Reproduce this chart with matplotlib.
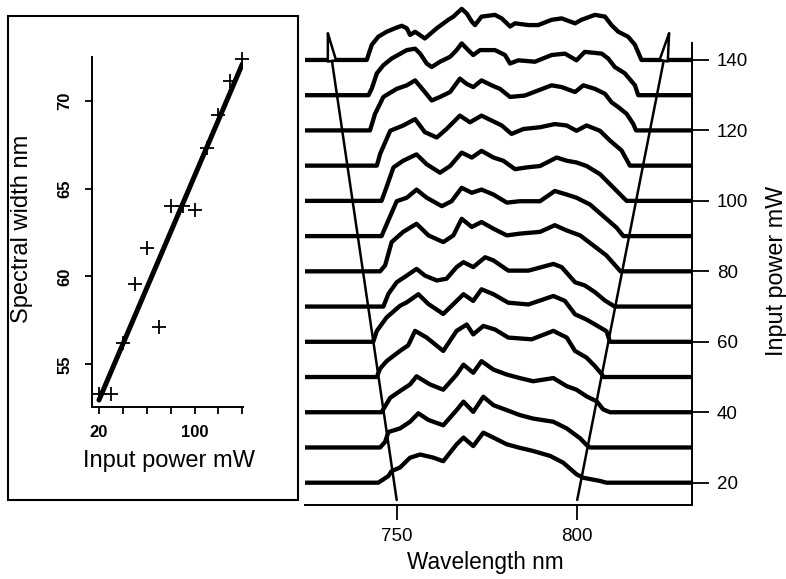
import numpy as np
import matplotlib
matplotlib.use("Agg")
import matplotlib.pyplot as plt
from matplotlib.patches import Rectangle

plt.rcParams['font.family'] = ['Liberation Sans', 'DejaVu Sans']

# ---------------- data ----------------
# inset: spectral width vs input power
inset_power = [20, 30, 40, 50, 60, 70, 80, 90, 100, 110, 120, 130, 140]
inset_width = [53.3, 53.3, 56.2, 59.6, 61.6, 57.1, 64.0, 64.0, 63.8, 67.3, 69.2, 71.1, 72.4]
inset_xticks = [20, 40, 60, 80, 100, 120, 140]
inset_xticklabels = ['20', '', '', '', '100', '', '']
inset_yticks = [55, 60, 65, 70]

# main: spectra offset by input power (mW); heights in the same units
powers = [20, 30, 40, 50, 60, 70, 80, 90, 100, 110, 120, 130, 140]
main_xticks = [750, 800]
main_yticks = [20, 40, 60, 80, 100, 120, 140]

wl_20 = [744.9, 747.7, 748.6, 750.9, 753.7, 756.5, 760.2, 762.9, 766.6, 768.5, 771.2, 774.0, 776.8, 780.5, 784.1, 787.8, 792.5, 796.1, 799.8, 801.7, 806.3, 808.1]
h_20 = [0, 1.9, 3.3, 4.3, 7.1, 8.0, 7.1, 6.1, 10.9, 12.8, 10.4, 14.2, 12.8, 10.9, 9.9, 9.0, 7.6, 5.7, 2.4, 1.4, 0.5, 0]
wl_30 = [745.4, 746.8, 747.7, 750.9, 753.7, 756.0, 758.8, 762.9, 766.6, 768.5, 771.2, 774.0, 776.8, 780.5, 784.1, 787.8, 793.4, 797.1, 800.8, 802.6, 803.5]
h_30 = [0, 1.6, 4.4, 5.4, 7.3, 9.7, 7.8, 6.3, 10.6, 13.0, 10.1, 14.4, 12.0, 10.6, 9.2, 8.2, 7.3, 5.4, 2.6, 0.7, 0]
wl_40 = [745.8, 748.2, 750.9, 753.7, 755.5, 759.2, 762.9, 766.6, 768.5, 771.2, 773.5, 776.8, 780.5, 784.1, 787.8, 793.4, 797.1, 799.8, 802.6, 805.4, 807.2, 809.1]
h_40 = [0, 4.1, 6.0, 7.9, 10.2, 7.9, 6.4, 10.7, 13.5, 11.2, 14.5, 12.1, 10.7, 9.7, 8.8, 9.7, 7.4, 6.4, 4.5, 3.1, 0.8, 0]
wl_50 = [744.5, 745.4, 747.2, 750.9, 753.2, 755.1, 758.3, 762.9, 766.6, 769.4, 771.2, 774.0, 777.2, 780.9, 787.4, 793.4, 797.1, 799.4, 802.6, 804.9, 806.8, 807.2]
h_50 = [0, 2.4, 4.5, 7.4, 9.0, 13.1, 11.2, 7.4, 13.1, 14.9, 12.1, 14.5, 13.5, 11.2, 10.7, 13.1, 11.2, 7.4, 5.5, 3.1, 0.8, 0]
wl_60 = [743.5, 744.5, 747.2, 750.9, 752.8, 756.0, 758.8, 762.9, 766.6, 768.5, 771.2, 773.5, 776.8, 780.9, 786.5, 793.4, 796.6, 799.4, 802.6, 805.8, 808.1, 809.1]
h_60 = [0, 3.1, 6.9, 10.2, 11.2, 13.5, 10.7, 7.9, 11.6, 13.5, 11.6, 14.9, 13.5, 11.1, 10.6, 13.0, 11.6, 7.8, 6.3, 4.4, 3.0, 0]
wl_70 = [746.3, 747.7, 750.0, 752.8, 755.5, 757.8, 761.1, 763.8, 766.6, 768.5, 771.2, 774.5, 776.8, 780.9, 786.5, 793.4, 795.7, 799.4, 802.1, 804.9, 807.7, 810.4]
h_70 = [0, 3.6, 6.9, 8.8, 10.7, 8.8, 7.4, 7.9, 11.2, 12.6, 11.2, 14.0, 13.1, 10.2, 10.2, 12.1, 11.2, 6.9, 6.0, 4.1, 1.7, 0]
wl_80 = [745.4, 746.8, 748.6, 751.8, 755.5, 758.8, 762.9, 765.7, 768.0, 770.8, 773.5, 776.8, 780.5, 784.1, 789.7, 793.8, 797.1, 800.8, 804.4, 808.1, 812.0]
h_80 = [0, 1.7, 8.3, 11.2, 13.5, 10.2, 8.3, 10.2, 14.9, 12.6, 14.0, 12.1, 10.2, 10.7, 11.2, 13.1, 11.6, 10.2, 7.4, 4.5, 0]
wl_90 = [745.8, 747.2, 750.0, 752.8, 755.5, 758.3, 762.5, 765.2, 768.0, 770.8, 773.5, 776.8, 780.5, 784.1, 789.7, 793.8, 797.1, 799.8, 803.5, 807.2, 810.9, 812.8]
h_90 = [0, 3.3, 9.9, 10.9, 13.2, 10.9, 8.5, 9.9, 13.7, 12.3, 13.2, 11.8, 9.5, 9.9, 9.9, 12.8, 11.8, 10.9, 9.0, 5.7, 2.4, 0]
wl_100 = [745.8, 746.8, 749.1, 751.8, 755.5, 758.3, 762.0, 764.8, 768.0, 770.8, 773.5, 776.8, 779.5, 782.8, 786.0, 789.7, 794.3, 797.1, 799.8, 802.6, 806.3, 810.0, 812.8, 813.7]
h_100 = [0, 2.8, 9.5, 11.4, 13.2, 10.4, 8.0, 9.9, 13.7, 12.3, 14.2, 12.3, 11.4, 9.0, 9.5, 9.9, 12.3, 11.4, 10.9, 9.9, 7.6, 3.8, 0.9, 0]
wl_110 = [744.5, 745.4, 748.2, 751.8, 755.1, 757.8, 761.1, 763.8, 767.5, 770.3, 773.5, 776.3, 779.1, 781.8, 785.1, 789.7, 793.8, 797.1, 799.8, 802.6, 806.3, 809.1, 812.3, 814.6]
h_110 = [0, 3.3, 9.9, 11.4, 13.2, 9.5, 8.0, 10.4, 14.2, 12.3, 14.2, 12.8, 11.4, 9.0, 10.4, 10.9, 11.8, 11.4, 9.9, 11.4, 9.9, 7.1, 4.3, 0]
wl_120 = [742.6, 744.0, 746.3, 750.0, 752.8, 755.1, 757.4, 759.7, 762.0, 764.8, 767.5, 769.4, 771.2, 773.5, 776.3, 778.6, 781.4, 785.5, 792.9, 795.7, 799.4, 801.7, 804.9, 807.7, 809.5, 811.4, 813.7, 815.5, 816.3]
h_120 = [0, 4.7, 9.5, 11.8, 12.8, 14.2, 11.4, 8.5, 9.5, 10.9, 14.7, 13.2, 12.3, 14.2, 12.8, 11.8, 9.5, 9.9, 12.8, 12.3, 10.9, 12.8, 11.8, 10.4, 8.0, 6.6, 4.7, 1.9, 0]
wl_130 = [742.2, 743.1, 744.5, 746.3, 748.6, 752.8, 755.1, 756.5, 758.3, 759.7, 762.0, 764.8, 766.6, 768.0, 769.8, 771.2, 773.1, 777.2, 780.0, 781.4, 783.7, 788.3, 792.9, 796.6, 799.8, 802.1, 806.8, 808.6, 810.4, 813.2, 816.0, 816.9]
h_130 = [0, 1.9, 6.2, 8.5, 10.4, 12.8, 13.2, 11.8, 9.0, 8.0, 9.5, 10.9, 12.8, 14.7, 12.8, 11.4, 12.8, 12.8, 11.4, 9.0, 9.9, 9.5, 11.4, 11.8, 9.9, 12.3, 11.8, 10.4, 8.0, 6.2, 2.8, 0]
wl_140 = [741.7, 743.1, 744.9, 747.2, 750.0, 751.4, 752.8, 753.7, 755.1, 757.8, 761.1, 764.3, 765.7, 768.0, 769.4, 770.8, 771.7, 773.5, 777.2, 779.1, 781.4, 782.8, 786.5, 789.2, 792.9, 795.7, 799.4, 801.2, 804.9, 807.7, 809.5, 811.4, 814.1, 816.0, 817.8]
h_140 = [0, 4.3, 6.6, 8.0, 9.2, 9.7, 9.0, 7.1, 8.0, 6.1, 9.0, 11.4, 12.3, 14.5, 13.2, 10.9, 9.9, 12.3, 12.8, 11.8, 9.5, 10.4, 9.9, 9.9, 11.4, 11.8, 10.4, 11.4, 12.8, 12.3, 9.9, 8.0, 6.6, 4.3, 0]

spectra = {20: (wl_20, h_20), 30: (wl_30, h_30), 40: (wl_40, h_40), 50: (wl_50, h_50),
           60: (wl_60, h_60), 70: (wl_70, h_70), 80: (wl_80, h_80), 90: (wl_90, h_90),
           100: (wl_100, h_100), 110: (wl_110, h_110), 120: (wl_120, h_120),
           130: (wl_130, h_130), 140: (wl_140, h_140)}

# arrows marking the spectral edges (start -> end), in wavelength / power units
arrow_left_wl = [750.0, 730.6]
arrow_left_pw = [15.1, 149.9]
arrow_right_wl = [800.0, 825.9]
arrow_right_pw = [15.1, 149.9]

WL_MIN, WL_MAX = 724.6, 831.8
PW_MIN, PW_MAX = 13.67, 144.9

# ---------------- figure ----------------
W, H = 786, 579
fig = plt.figure(figsize=(W / 100, H / 100), dpi=100)

def fx(px):
    return px / W

def fy(py):
    return 1 - py / H

# main axes
ax = fig.add_axes([fx(305), fy(505), fx(692) - fx(305), fy(42.7) - fy(505)])
ax.set_xlim(WL_MIN, WL_MAX)
ax.set_ylim(PW_MIN, PW_MAX)
for p in powers:
    wl, h = spectra[p]
    xs = [WL_MIN] + list(wl) + [WL_MAX]
    ys = [p] + [p + v for v in h] + [p]
    ax.plot(xs, ys, color='black', lw=3.1, solid_joinstyle='round',
            solid_capstyle='butt', clip_on=False, zorder=2)

for wls, pws in ((arrow_left_wl, arrow_left_pw), (arrow_right_wl, arrow_right_pw)):
    ax.annotate('', xy=(wls[1], pws[1]), xytext=(wls[0], pws[0]),
                arrowprops=dict(arrowstyle='-|>,head_length=1.0,head_width=0.15',
                                lw=1.8, ec='black', fc='white',
                                shrinkA=0, shrinkB=0, mutation_scale=20),
                annotation_clip=False, zorder=5)

ax.spines['left'].set_visible(False)
ax.spines['top'].set_visible(False)
ax.spines['bottom'].set_linewidth(1.4)
ax.spines['right'].set_linewidth(1.4)
ax.yaxis.tick_right()
ax.set_xticks(main_xticks)
ax.set_yticks(main_yticks)
ax.tick_params(axis='x', direction='out', length=10.5, width=1.3, pad=6, labelsize=13.5)
ax.tick_params(axis='y', direction='out', length=12, width=1.3, pad=6, labelsize=13.5,
               right=True, left=False, labelright=True, labelleft=False)

fig.text(fx(485.5), fy(562), 'Wavelength nm', ha='center', va='center', fontsize=16.3)
fig.text(fx(776), fy(271), 'Input power mW', ha='center', va='center',
         rotation=90, fontsize=16.8)

# inset frame
fig.add_artist(Rectangle((fx(8), fy(500)), fx(298) - fx(8), fy(16) - fy(500),
                         transform=fig.transFigure, fill=False, lw=1.5, ec='black'))

# inset axes
ax2 = fig.add_axes([fx(91.7), fy(406.7), fx(242.7) - fx(91.7), fy(57) - fy(406.7)])
ax2.set_xlim(13.9, 140.3)
ax2.set_ylim(52.59, 72.49)
ax2.plot(inset_power, inset_width, '+', color='black', ms=10, mew=1.3, clip_on=False, zorder=3)
coef = np.polyfit(inset_power, inset_width, 1)
fit_x = np.array([inset_power[0], inset_power[-1]])
ax2.plot(fit_x, np.polyval(coef, fit_x), color='black', lw=3.6, solid_capstyle='round', zorder=2)

ax2.spines['top'].set_visible(False)
ax2.spines['right'].set_visible(False)
ax2.spines['left'].set_linewidth(1.4)
ax2.spines['bottom'].set_linewidth(1.4)
ax2.set_xticks(inset_xticks)
ax2.set_xticklabels(inset_xticklabels, fontweight='bold')
ax2.set_yticks(inset_yticks)
ax2.set_yticklabels([str(v) for v in inset_yticks], fontweight='bold', rotation=90, va='center')
ax2.tick_params(axis='x', direction='out', length=5, width=1.3, pad=8, labelsize=12)
ax2.tick_params(axis='y', direction='out', length=5, width=1.3, pad=9, labelsize=12)

fig.text(fx(169), fy(461), 'Input power mW', ha='center', va='center', fontsize=17)
fig.text(fx(22.5), fy(229), 'Spectral width nm', ha='center', va='center',
         rotation=90, fontsize=17)

fig.savefig('out.png', dpi=100)
